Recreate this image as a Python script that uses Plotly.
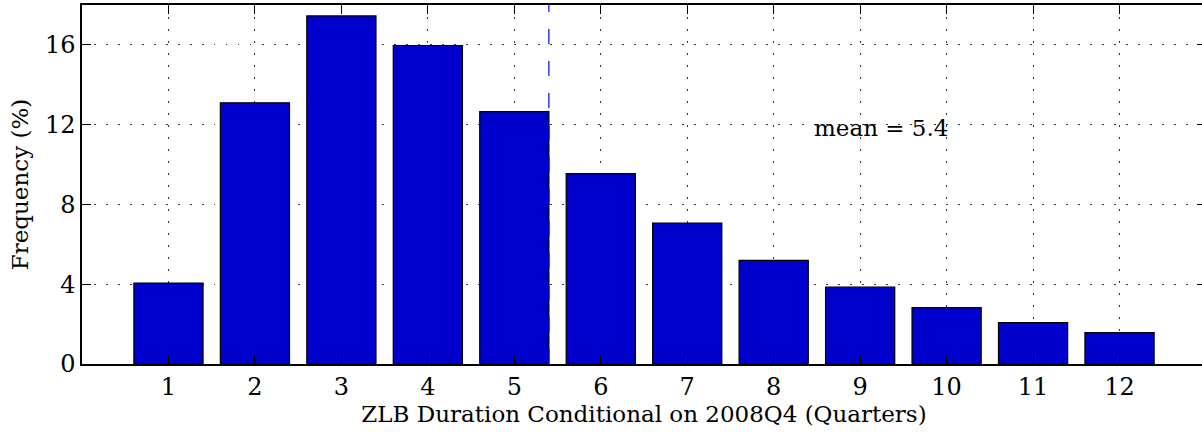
import plotly.graph_objects as go

quarters = list(range(1, 13))
frequency = [4.06, 13.1, 17.45, 15.97, 12.65, 9.55, 7.07, 5.2, 3.85, 2.83, 2.08, 1.58]
mean_value = 5.4
tick_vals_y = [0, 4, 8, 12, 16]

FONT = "DejaVu Serif"
FS = 24
FS_T = 23

fig = go.Figure()
fig.add_trace(go.Bar(
    x=quarters, y=frequency, width=0.8,
    marker=dict(color="#0000CC", line=dict(color="black", width=1.2)),
    showlegend=False,
))
fig.add_shape(type="line", x0=mean_value, x1=mean_value, y0=0, y1=18,
              xref="x", yref="y", line=dict(color="blue", width=1.2, dash="15px,17px"))
fig.add_annotation(x=9.24, y=11.84, text="mean = 5.4", showarrow=False,
                   font=dict(family=FONT, size=FS_T, color="black"))

axis_common = dict(
    showline=True, linecolor="black", linewidth=1.5, mirror="ticks",
    ticks="inside", ticklen=9, tickcolor="black", tickwidth=1.2,
    showgrid=True, gridcolor="#333333", gridwidth=1, griddash="1.5px,10.5px",
    zeroline=False, automargin=False,
    tickfont=dict(family=FONT, size=FS, color="black"),
)
fig.update_xaxes(range=[0, 13], tickvals=quarters, **axis_common,
                 title=dict(text="ZLB Duration Conditional on 2008Q4 (Quarters)",
                            font=dict(family=FONT, size=FS_T, color="black"), standoff=6))
fig.update_yaxes(range=[0, 18], tickvals=tick_vals_y, **axis_common,
                 title=dict(text="Frequency (%)",
                            font=dict(family=FONT, size=FS_T, color="black"), standoff=10))
fig.update_layout(
    width=1206, height=435,
    margin=dict(l=82, r=0, t=5, b=71),
    plot_bgcolor="white", paper_bgcolor="white",
    bargap=0.2,
)
fig.write_html("out.html", config={"displayModeBar": False},
               post_script="document.body.style.margin='0';document.body.style.overflow='hidden';")
